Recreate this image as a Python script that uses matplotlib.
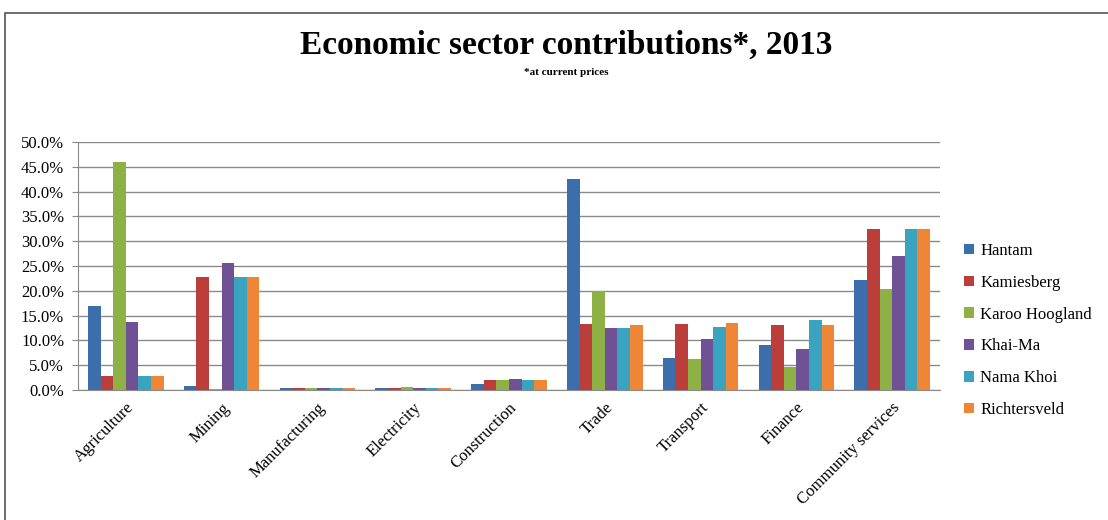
import matplotlib.pyplot as plt
import numpy as np
from matplotlib.patches import Rectangle
from matplotlib.ticker import PercentFormatter

# ----------------------------------------
# Data (share of regional GDP, %)
# ----------------------------------------
sectors = ['Agriculture', 'Mining', 'Manufacturing', 'Electricity', 'Construction',
           'Trade', 'Transport', 'Finance', 'Community services']

hantam       = [17.0, 0.9, 0.4, 0.4, 1.3, 42.6, 6.5, 9.0, 22.1]
kamiesberg   = [2.8, 22.8, 0.4, 0.4, 2.0, 13.3, 13.3, 13.1, 32.4]
karoo        = [46.0, 0.3, 0.4, 0.6, 2.0, 20.0, 6.2, 4.6, 20.4]
khai_ma      = [13.7, 25.6, 0.4, 0.4, 2.3, 12.4, 10.2, 8.2, 27.0]
nama_khoi    = [2.8, 22.8, 0.4, 0.4, 2.0, 12.4, 12.7, 14.2, 32.4]
richtersveld = [2.8, 22.8, 0.4, 0.4, 2.0, 13.1, 13.5, 13.1, 32.4]

series = [hantam, kamiesberg, karoo, khai_ma, nama_khoi, richtersveld]
names = ['Hantam', 'Kamiesberg', 'Karoo Hoogland', 'Khai-Ma', 'Nama Khoi', 'Richtersveld']
colors = ['#3c6eab', '#bb3e3b', '#8db145', '#6f5296', '#3aa3c0', '#ee8635']

plt.rcParams['font.family'] = ['Liberation Serif', 'DejaVu Serif']

fig = plt.figure(figsize=(11.08, 5.2), dpi=100)
ax = fig.add_axes([78 / 1108, 130 / 520, 862 / 1108, 248 / 520])

# outer frame like the original chart box
fig.patches.append(Rectangle((5 / 1108, -0.1), 1.2, (520 - 13) / 520 + 0.1,
                             transform=fig.transFigure, fill=False,
                             edgecolor='#555555', linewidth=1.2))

x = np.arange(len(sectors))
n = len(series)
width = 0.79 / n
for i, (vals, name, c) in enumerate(zip(series, names, colors)):
    ax.bar(x - 0.395 + width * (i + 0.5), vals, width, color=c, label=name, zorder=3)

ax.set_xlim(-0.5, len(sectors) - 0.5)
ax.set_ylim(0, 50)
ax.set_yticks(np.arange(0, 50.1, 5))
ax.yaxis.set_major_formatter(PercentFormatter(decimals=1))
ax.grid(axis='y', color='#8a8a8a', linewidth=1, zorder=0)
for s in ['top', 'right']:
    ax.spines[s].set_visible(False)
ax.spines['left'].set_color('#8a8a8a')
ax.spines['bottom'].set_color('#8a8a8a')
ax.tick_params(axis='y', length=4, color='#8a8a8a', labelsize=12, pad=6)
ax.tick_params(axis='x', length=0, labelsize=12, pad=7)
ax.set_xticks(x)
ax.set_xticklabels(sectors, rotation=45, ha='right', rotation_mode='anchor')

fig.text(0.511, 0.912, 'Economic sector contributions*, 2013', ha='center', va='center',
         fontsize=24, fontweight='bold')
fig.text(0.511, 0.86, '*at current prices', ha='center', va='center',
         fontsize=8, fontweight='bold')

ax.legend(loc='center left', bbox_to_anchor=(1.01, 0.24), frameon=False,
          fontsize=12, handlelength=0.6, handleheight=0.6, handletextpad=0.4,
          labelspacing=0.95)

fig.savefig('out.png', dpi=100)
